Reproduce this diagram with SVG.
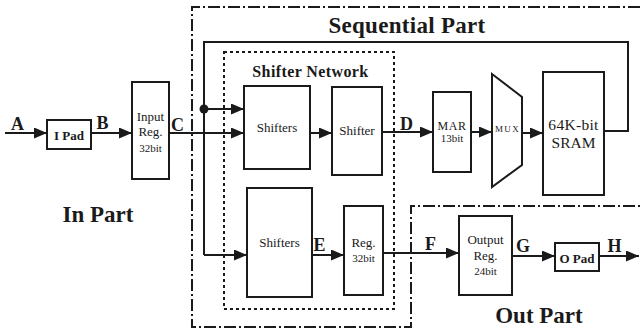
<svg xmlns="http://www.w3.org/2000/svg" width="640" height="333" viewBox="0 0 640 333">
<defs>
<style>
.box{fill:#fff;stroke:#1a1a1a;stroke-width:2}
.ln{fill:none;stroke:#1a1a1a;stroke-width:2}
.arr{fill:none;stroke:#1a1a1a;stroke-width:2;marker-end:url(#ah)}
.dd{fill:none;stroke:#1a1a1a;stroke-width:2;stroke-dasharray:12 3 2 3}
.dot{fill:none;stroke:#1a1a1a;stroke-width:2;stroke-dasharray:3 3}
text{font-family:"Liberation Serif","Times New Roman",serif;fill:#1a1a1a;text-anchor:middle}
.lbl{font-size:18px;font-weight:bold}
.part{font-size:23px;font-weight:bold}
.t13{font-size:13px}
.t11{font-size:11px}
.pad{font-size:13px;font-weight:bold}
</style>
<marker id="ah" markerUnits="userSpaceOnUse" markerWidth="13" markerHeight="11" refX="13" refY="5.5" orient="auto">
<path d="M0,0 L13,5.5 L0,11 z" fill="#1a1a1a"/>
</marker>
</defs>
<rect width="640" height="333" fill="#fff"/>

<g id="regions">
<path class="dd" d="M640,7 H192 V327 H411 V206 H640"/>
<rect class="dot" x="224" y="52" width="170" height="257"/>
<text class="part" x="407" y="33" style="letter-spacing:0.3px">Sequential Part</text>
<text x="310.5" y="77" style="font-size:16px;font-weight:bold;letter-spacing:0.4px">Shifter Network</text>
<text class="part" x="98" y="222">In Part</text>
<text class="part" x="539" y="323">Out Part</text>
</g>

<g id="connectors">
<path class="arr" d="M5,133 H47"/>
<path class="arr" d="M91,133 H132"/>
<path class="arr" d="M169,133 H244"/>
<path class="ln" d="M604,131 H628 V42 H204 V255"/>
<path class="arr" d="M204,255 H247"/>
<circle cx="204" cy="109" r="4.5" fill="#1a1a1a"/>
<path class="arr" d="M204,109 H244"/>
<path class="arr" d="M310,133 H332"/>
<path class="arr" d="M382,132 H433"/>
<path class="arr" d="M471,132 H492"/>
<path class="arr" d="M522,133 H543"/>
<path class="arr" d="M312,255 H344"/>
<path class="arr" d="M383,253 H459"/>
<path class="arr" d="M512,256 H555"/>
<path class="arr" d="M599,256 H639"/>
<text class="lbl" x="17.5" y="130">A</text>
<text class="lbl" x="102.5" y="129">B</text>
<text class="lbl" x="177.5" y="131">C</text>
<text class="lbl" x="406.5" y="130">D</text>
<text class="lbl" x="319.5" y="251">E</text>
<text class="lbl" x="430.5" y="250">F</text>
<text class="lbl" x="523" y="252">G</text>
<text class="lbl" x="614.5" y="252">H</text>
</g>

<g id="ipad">
<rect class="box" x="47" y="120" width="44" height="29"/>
<text class="pad" x="69" y="140">I Pad</text>
</g>
<g id="inputreg">
<rect class="box" x="132" y="82" width="37" height="97"/>
<text class="t13" x="150.5" y="121">Input</text>
<text class="t13" x="150.5" y="136">Reg.</text>
<text class="t11" x="150.5" y="152">32bit</text>
</g>
<g id="shifters1">
<rect class="box" x="244" y="86" width="66" height="83"/>
<text class="t13" x="277" y="132">Shifters</text>
</g>
<g id="shifter">
<rect class="box" x="332" y="87" width="50" height="88"/>
<text class="t13" x="357" y="135">Shifter</text>
</g>
<g id="mar">
<rect class="box" x="433" y="92" width="38" height="80"/>
<text x="452" y="130" style="font-size:12px;letter-spacing:0.5px">MAR</text>
<text class="t11" x="452" y="142">13bit</text>
</g>
<g id="mux">
<path class="box" d="M492,74 L522,97 L522,165 L492,187 Z"/>
<text x="507.5" y="132" style="font-size:9px;letter-spacing:1.3px">MUX</text>
</g>
<g id="sram">
<rect class="box" x="543" y="72" width="61" height="123"/>
<text x="573.5" y="130" style="font-size:15.5px;letter-spacing:0.3px">64K-bit</text>
<text x="573.5" y="148" style="font-size:15.5px">SRAM</text>
</g>
<g id="shifters2">
<rect class="box" x="247" y="188" width="65" height="109"/>
<text class="t13" x="279.5" y="247">Shifters</text>
</g>
<g id="reg32">
<rect class="box" x="344" y="206" width="39" height="89"/>
<text class="t13" x="363.5" y="247">Reg.</text>
<text class="t11" x="363.5" y="262">32bit</text>
</g>
<g id="outputreg">
<rect class="box" x="459" y="216" width="53" height="79"/>
<text class="t13" x="485.5" y="244">Output</text>
<text class="t13" x="485.5" y="260">Reg.</text>
<text class="t11" x="485.5" y="275">24bit</text>
</g>
<g id="opad">
<rect class="box" x="555" y="243" width="44" height="28"/>
<text class="pad" x="577" y="263">O Pad</text>
</g>
</svg>
